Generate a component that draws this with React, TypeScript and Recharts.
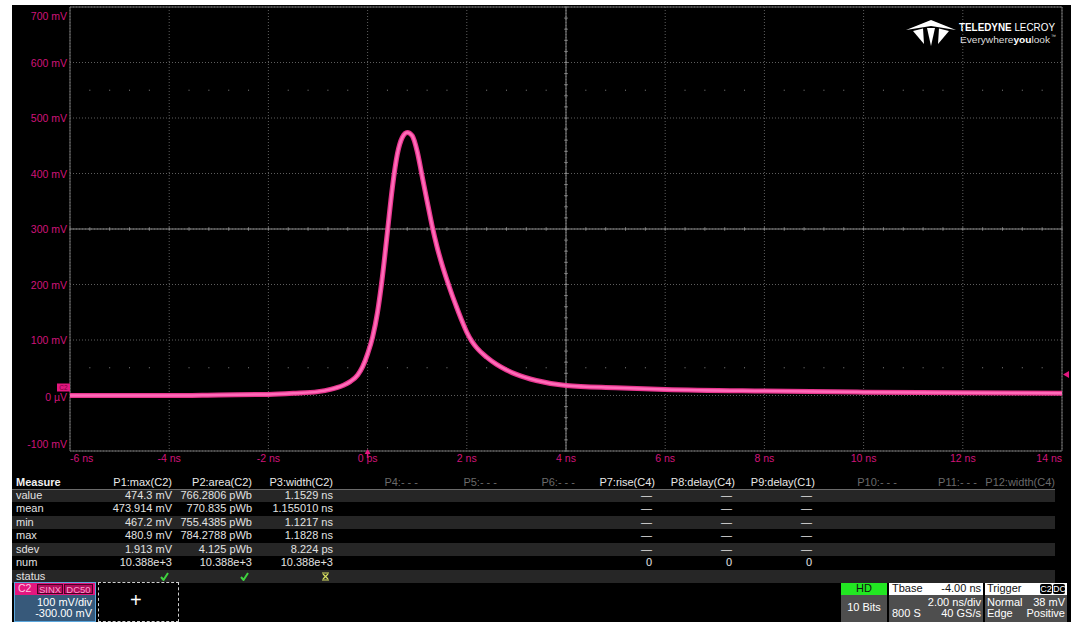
import React from 'react';
import {
  LineChart,
  Line,
  XAxis,
  YAxis,
  CartesianGrid,
  ReferenceLine,
  ReferenceDot
} from 'recharts';

// waveform C2 (ns, mV)
const timeNs = [
  -6, -5, -4, -3, -2, -1.5, -1, -0.75, -0.5, -0.35, -0.2, -0.1, 0, 0.1, 0.2, 0.3,
  0.4, 0.5, 0.6, 0.7, 0.8, 0.9, 1.0, 1.1, 1.2, 1.3, 1.4, 1.5, 1.6, 1.7, 1.8, 1.9,
  2.0, 2.1, 2.2, 2.4, 2.6, 2.8, 3.0, 3.4, 4.0, 5.0, 6.0, 8.0, 10, 12, 14
];
const traceMv = [
  0, 0, 0, 1, 2, 4, 7, 11, 18, 25, 37, 52, 75, 105, 150, 215,
  295, 375, 435, 465, 474, 468, 440, 395, 350, 306, 268, 236, 208, 182, 158, 135,
  114, 98, 86, 69, 56, 46, 38, 27, 18, 14, 11, 8, 6, 5, 4
];

const xTicks = [-6, -4, -2, 0, 2, 4, 6, 8, 10, 12, 14];
const xTickLabels = ['-6 ns', '-4 ns', '-2 ns', '0 ps', '2 ns', '4 ns', '6 ns', '8 ns', '10 ns', '12 ns', '14 ns'];
const yTicks = [-100, 0, 100, 200, 300, 400, 500, 600, 700];
const yTickLabels = ['-100 mV', '0 µV', '100 mV', '200 mV', '300 mV', '400 mV', '500 mV', '600 mV', '700 mV'];

const triggerLevelMv = 38;
const triggerTimeNs = 0;
const channelOffsetMv = 0;

// measurement table
const paramHeaders = [
  'P1:max(C2)', 'P2:area(C2)', 'P3:width(C2)', 'P4:- - -', 'P5:- - -', 'P6:- - -',
  'P7:rise(C4)', 'P8:delay(C4)', 'P9:delay(C1)', 'P10:- - -', 'P11:- - -', 'P12:width(C4)'
];
const paramActive = [true, true, true, false, false, false, true, true, true, false, false, false];
const rowLabels = ['value', 'mean', 'min', 'max', 'sdev', 'num', 'status'];
const p1Values = ['474.3 mV', '473.914 mV', '467.2 mV', '480.9 mV', '1.913 mV', '10.388e+3'];
const p2Values = ['766.2806 pWb', '770.835 pWb', '755.4385 pWb', '784.2788 pWb', '4.125 pWb', '10.388e+3'];
const p3Values = ['1.1529 ns', '1.155010 ns', '1.1217 ns', '1.1828 ns', '8.224 ps', '10.388e+3'];
const emptyValues = ['---', '---', '---', '---', '---', '0'];

const data = timeNs.map((t, i) => ({ t, mv: traceMv[i] }));

const FONT = '"Liberation Sans", Arial, Helvetica, sans-serif';
const LABEL = '#d0147a';
const MAGENTA = '#e3177f';

// graticule decorations
const minorX: number[] = [];
for (let k = 0; k <= 50; k++) minorX.push(-6 + k * 0.4);
const minorY: number[] = [];
for (let k = 0; k <= 40; k++) minorY.push(-100 + k * 20);
const dotX = minorX.filter((_, k) => k % 5 !== 0);

const colRight = [172, 252, 333, 418, 497, 575, 655, 735, 815, 897, 977, 1055];

const XTick = (props: any) => {
  const { x, y, payload } = props;
  const i = xTicks.indexOf(payload.value);
  const anchor = i === 0 ? 'start' : i === xTicks.length - 1 ? 'end' : 'middle';
  return (
    <text x={x} y={y + 11} textAnchor={anchor} fill={LABEL} fontSize={10.5} fontFamily={FONT}>
      {xTickLabels[i]}
    </text>
  );
};

const YTick = (props: any) => {
  const { y, payload } = props;
  const i = yTicks.indexOf(payload.value);
  let dy = 4;
  if (i === yTicks.length - 1) dy = 13;
  if (i === 0) dy = -3;
  if (payload.value === 0) dy = 5;
  return (
    <text x={67} y={y + dy} textAnchor="end" fill={LABEL} fontSize={10.5} fontFamily={FONT}>
      {yTickLabels[i]}
    </text>
  );
};

const ChannelMarker = (p: any) => (
  <g>
    <rect x={p.cx - 13} y={p.cy - 12} width={13} height={8} fill={MAGENTA} />
    <text x={p.cx - 6.5} y={p.cy - 5.5} textAnchor="middle" fontSize={6.5} fill="#7a0040" fontFamily={FONT}>C2</text>
  </g>
);

const LevelMarker = (p: any) => (
  <polygon points={`${p.cx + 1},${p.cy} ${p.cx + 7},${p.cy - 3.5} ${p.cx + 7},${p.cy + 3.5}`} fill={MAGENTA} />
);

const TimeMarker = (p: any) => (
  <g>
    <polygon points={`${p.cx},${p.cy - 2} ${p.cx - 3},${p.cy + 3} ${p.cx + 3},${p.cy + 3}`} fill={MAGENTA} />
    <line x1={p.cx} y1={p.cy + 2} x2={p.cx} y2={p.cy + 7} stroke={MAGENTA} strokeWidth={1.5} />
  </g>
);

const txt: React.CSSProperties = {
  position: 'absolute',
  fontFamily: FONT,
  fontSize: 11,
  lineHeight: '13px',
  color: '#e2e2e2',
  whiteSpace: 'nowrap'
};

const badge: React.CSSProperties = {
  ...txt,
  height: 10,
  lineHeight: '10px',
  textAlign: 'center',
  boxSizing: 'border-box'
};

function Right({ edge, top, children, style }: any) {
  return <span style={{ ...txt, right: 1071 - edge, top, ...style }}>{children}</span>;
}

function StatusIcon({ edge, top, kind }: any) {
  if (kind === 'ok') {
    return (
      <svg style={{ position: 'absolute', left: edge - 10, top: top + 2 }} width={9} height={9}>
        <polyline points="1,5 3.5,8 8,1" fill="none" stroke="#3fd23f" strokeWidth={2} />
      </svg>
    );
  }
  return (
    <svg style={{ position: 'absolute', left: edge - 10, top: top + 2 }} width={9} height={9}>
      <line x1={1} y1={1} x2={8} y2={1} stroke="#d8e060" strokeWidth={1} />
      <line x1={1} y1={8} x2={8} y2={8} stroke="#d8e060" strokeWidth={1} />
      <line x1={2} y1={2} x2={7} y2={7} stroke="#d8e060" strokeWidth={1.2} />
      <line x1={7} y1={2} x2={2} y2={7} stroke="#d8e060" strokeWidth={1.2} />
    </svg>
  );
}

export default function App() {
  const rowTop = (i: number) => 489 + i * 13.45;
  return (
    <div style={{ position: 'absolute', left: 0, top: 0, width: 1071, height: 622, background: '#fff', overflow: 'hidden' }}>
      <div style={{ position: 'absolute', left: 12, top: 5, width: 1059, height: 617, background: '#000' }} />

      {/* logo */}
      <svg style={{ position: 'absolute', left: 0, top: 0 }} width={1071} height={60}>
        <polygon points="906,30 931,20 956,30 931,26" fill="#fff" />
        <polygon points="927,28 935,28 931,46" fill="#fff" />
        <polygon points="913,31 923,28.5 924,44" fill="#fff" />
        <polygon points="949,31 939,28.5 938,44" fill="#fff" />
        <text x={959} y={30.5} fill="#fff" fontFamily={FONT} fontSize={10.5} textLength={96} lengthAdjust="spacingAndGlyphs">
          <tspan fontWeight="bold">TELEDYNE</tspan> LECROY
        </text>
        <text x={960} y={42.5} fill="#ddd" fontFamily={FONT} fontSize={9.5} textLength={90} lengthAdjust="spacingAndGlyphs">
          Everywhere<tspan fontWeight="bold" fill="#fff">you</tspan>look
        </text>
        <text x={1051} y={38} fill="#ddd" fontFamily={FONT} fontSize={5}>™</text>
      </svg>

      <div style={{ position: 'absolute', left: 0, top: 0 }}>
        <LineChart width={1071} height={470} data={data} margin={{ top: 7, right: 9, left: 0, bottom: 0 }}>
          <CartesianGrid stroke="#5e5e5e" strokeDasharray="1 2" />
          <XAxis
            dataKey="t"
            type="number"
            domain={[-6, 14]}
            ticks={xTicks}
            height={19}
            axisLine={false}
            tickLine={false}
            tickSize={0}
            tickMargin={0}
            tick={<XTick />}
            interval={0}
            allowDataOverflow
          />
          <YAxis
            type="number"
            domain={[-100, 700]}
            ticks={yTicks}
            width={70}
            axisLine={false}
            tickLine={false}
            tick={<YTick />}
            interval={0}
            allowDataOverflow
          />
          <ReferenceLine x={4} stroke="#8a8a8a" ifOverflow="visible" />
          <ReferenceLine y={300} stroke="#8a8a8a" ifOverflow="visible" />
          {minorX.map((t) => (
            <ReferenceLine key={'mx' + t} segment={[{ x: t, y: 297 }, { x: t, y: 303 }]} stroke="#8a8a8a" ifOverflow="visible" />
          ))}
          {minorY.map((v) => (
            <ReferenceLine key={'my' + v} segment={[{ x: 3.965, y: v }, { x: 4.035, y: v }]} stroke="#8a8a8a" ifOverflow="visible" />
          ))}
          {dotX.map((t) => (
            <ReferenceLine key={'d5' + t} segment={[{ x: t, y: 49 }, { x: t, y: 51 }]} stroke="#777" ifOverflow="visible" />
          ))}
          {dotX.map((t) => (
            <ReferenceLine key={'d55' + t} segment={[{ x: t, y: 549 }, { x: t, y: 551 }]} stroke="#777" ifOverflow="visible" />
          ))}
          <ReferenceLine x={-6} stroke="#707070" ifOverflow="visible" />
          <ReferenceLine x={14} stroke="#707070" ifOverflow="visible" />
          <ReferenceLine y={-100} stroke="#707070" ifOverflow="visible" />
          <ReferenceLine y={700} stroke="#707070" ifOverflow="visible" />
          <Line type="monotone" dataKey="mv" stroke="#e8368f" strokeWidth={5} dot={false} isAnimationActive={false} />
          <Line type="monotone" dataKey="mv" stroke="#ff6cb9" strokeWidth={2.5} dot={false} isAnimationActive={false} />
          <ReferenceDot x={-6} y={channelOffsetMv} r={0} ifOverflow="visible" shape={<ChannelMarker />} />
          <ReferenceDot x={14} y={triggerLevelMv} r={0} ifOverflow="visible" shape={<LevelMarker />} />
          <ReferenceDot x={triggerTimeNs} y={-100} r={0} ifOverflow="visible" shape={<TimeMarker />} />
        </LineChart>
      </div>

      {/* measurement table */}
      {rowLabels.map((_, i) =>
        i % 2 === 0 ? (
          <div key={'sh' + i} style={{ position: 'absolute', left: 12, top: rowTop(i), width: 1043, height: 13.45, background: '#262626' }} />
        ) : null
      )}
      <div style={{ position: 'absolute', left: 12, top: 488.5, width: 1043, height: 1, background: '#6a6a6a' }} />
      <span style={{ ...txt, left: 16, top: 476, fontWeight: 'bold', color: '#f0f0f0' }}>Measure</span>
      {paramHeaders.map((h, c) => (
        <Right key={'h' + c} edge={colRight[c]} top={476} style={{ color: paramActive[c] ? '#e8e8e8' : '#6a6a6a' }}>
          {h}
        </Right>
      ))}
      {rowLabels.map((r, i) => (
        <span key={'r' + r} style={{ ...txt, left: 16, top: rowTop(i) }}>{r}</span>
      ))}
      {p1Values.map((v, i) => <Right key={'a' + i} edge={colRight[0]} top={rowTop(i)}>{v}</Right>)}
      {p2Values.map((v, i) => <Right key={'b' + i} edge={colRight[1]} top={rowTop(i)}>{v}</Right>)}
      {p3Values.map((v, i) => <Right key={'c' + i} edge={colRight[2]} top={rowTop(i)}>{v}</Right>)}
      {[6, 7, 8].map((c) =>
        emptyValues.map((v, i) => (
          <Right key={'e' + c + i} edge={colRight[c] - 3} top={rowTop(i)}>{v === '---' ? '—' : v}</Right>
        ))
      )}
      <StatusIcon edge={colRight[0] - 2} top={rowTop(6)} kind="ok" />
      <StatusIcon edge={colRight[1] - 2} top={rowTop(6)} kind="ok" />
      <StatusIcon edge={colRight[2] - 2} top={rowTop(6)} kind="warn" />

      {/* channel descriptor */}
      <div style={{ position: 'absolute', left: 14, top: 582, width: 80, height: 38, border: '1px solid #5aa6dc', background: '#37597a' }} />
      <div style={{ position: 'absolute', left: 15, top: 583, width: 80, height: 12, background: MAGENTA }} />
      <span style={{ ...txt, left: 18, top: 582, fontSize: 10.5, color: '#ffc4e2' }}>C2</span>
      <span style={{ ...badge, left: 37, top: 584, width: 26, fontSize: 9.5, background: '#b00d5d', border: '1px solid #4a0024', color: '#ff9fcf' }}>SINX</span>
      <span style={{ ...badge, left: 64, top: 584, width: 29, fontSize: 9.5, background: '#b00d5d', border: '1px solid #4a0024', color: '#ff9fcf' }}>DC50</span>
      <Right edge={92} top={596} style={{ color: '#fff' }}>100 mV/div</Right>
      <Right edge={92} top={607} style={{ color: '#fff' }}>-300.00 mV</Right>

      <div style={{ position: 'absolute', left: 98, top: 582, width: 79, height: 38, border: '1px dashed #cfcfcf', background: '#000' }} />
      <span style={{ ...txt, left: 130, top: 590, fontSize: 20, lineHeight: '20px', color: '#fff' }}>+</span>

      {/* acquisition boxes */}
      <div style={{ position: 'absolute', left: 841, top: 583, width: 46, height: 12, background: '#22e622' }} />
      <div style={{ position: 'absolute', left: 841, top: 595, width: 46, height: 27, background: '#4e4e4e' }} />
      <span style={{ ...txt, left: 841, width: 46, textAlign: 'center', top: 582, color: '#111' }}>HD</span>
      <span style={{ ...txt, left: 841, width: 46, textAlign: 'center', top: 601, color: '#fff' }}>10 Bits</span>

      <div style={{ position: 'absolute', left: 889, top: 583, width: 94, height: 12, background: '#fff' }} />
      <div style={{ position: 'absolute', left: 889, top: 595, width: 94, height: 27, background: '#4e4e4e' }} />
      <span style={{ ...txt, left: 892, top: 582, color: '#111' }}>Tbase</span>
      <Right edge={981} top={582} style={{ color: '#111' }}>-4.00 ns</Right>
      <Right edge={981} top={596} style={{ color: '#fff' }}>2.00 ns/div</Right>
      <span style={{ ...txt, left: 892, top: 607, color: '#fff' }}>800 S</span>
      <Right edge={981} top={607} style={{ color: '#fff' }}>40 GS/s</Right>

      <div style={{ position: 'absolute', left: 985, top: 583, width: 82, height: 12, background: '#fff' }} />
      <div style={{ position: 'absolute', left: 985, top: 595, width: 82, height: 27, background: '#4e4e4e' }} />
      <span style={{ ...txt, left: 987, top: 582, color: '#111' }}>Trigger</span>
      <span style={{ ...badge, left: 1040, top: 584, width: 12, fontSize: 9, background: '#000', color: '#fff', borderRadius: 2 }}>C2</span>
      <span style={{ ...badge, left: 1053, top: 584, width: 12, fontSize: 9, background: '#000', color: '#fff', borderRadius: 2 }}>DC</span>
      <span style={{ ...txt, left: 987, top: 596, color: '#fff' }}>Normal</span>
      <Right edge={1065} top={596} style={{ color: '#fff' }}>38 mV</Right>
      <span style={{ ...txt, left: 987, top: 607, color: '#fff' }}>Edge</span>
      <Right edge={1065} top={607} style={{ color: '#fff' }}>Positive</Right>
    </div>
  );
}
